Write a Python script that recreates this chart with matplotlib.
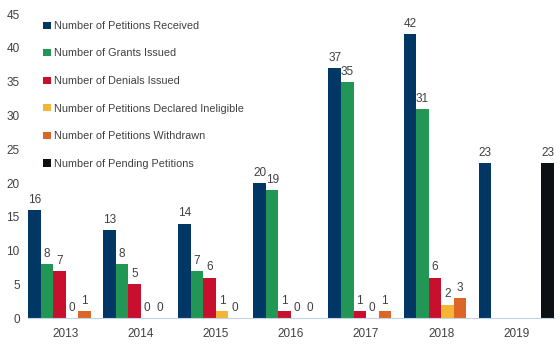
import numpy as np
import matplotlib.pyplot as plt

plt.rcParams['font.family'] = ['Liberation Sans', 'DejaVu Sans']

years = ["2013", "2014", "2015", "2016", "2017", "2018", "2019"]
received = [16, 13, 14, 20, 37, 42, 23]
grants = [8, 8, 7, 19, 35, 31, np.nan]
denials = [7, 5, 6, 1, 1, 6, np.nan]
ineligible = [0, 0, 1, 0, 0, 2, np.nan]
withdrawn = [1, 0, 0, 0, 1, 3, np.nan]
pending = [np.nan, np.nan, np.nan, np.nan, np.nan, np.nan, 23]

series = [
    ("Number of Petitions Received", received, "#003764"),
    ("Number of Grants Issued", grants, "#229654"),
    ("Number of Denials Issued", denials, "#c8102e"),
    ("Number of Petitions Declared Ineligible", ineligible, "#f4b535"),
    ("Number of Petitions Withdrawn", withdrawn, "#dc6627"),
    ("Number of Pending Petitions", pending, "#0c1014"),
]

fig = plt.figure(figsize=(5.6, 3.45), dpi=100)
ax = fig.add_axes([0.05, 0.078, 0.939, 0.881])

x = np.arange(len(years))
width = 1 / 6

for i, (name, vals, color) in enumerate(series):
    pos = x - 0.5 + width * (i + 0.5)
    bars = ax.bar(pos, vals, width, color=color, label=name)
    labels = ["" if np.isnan(v) else f"{v:g}" for v in vals]
    ax.bar_label(bars, labels=labels, padding=3, fontsize=8.5, color="#404040")

ax.set_xlim(-0.5, len(years) - 0.5)
ax.set_ylim(0, 45)
ax.set_yticks(range(0, 46, 5))
ax.set_xticks(x)
ax.set_xticklabels(years)
ax.tick_params(axis="both", length=0, labelsize=8.5, colors="#404040")
ax.tick_params(axis="y", pad=6)
ax.tick_params(axis="x", pad=7)
for s in ["top", "right", "left"]:
    ax.spines[s].set_visible(False)
ax.spines["bottom"].set_color("#c5d3e6")

ax.legend(loc="upper left", bbox_to_anchor=(0.068, 0.955), bbox_transform=fig.transFigure,
          frameon=False, fontsize=7.8, handlelength=0.65, handleheight=0.65,
          handletextpad=0.35, labelspacing=1.62, borderpad=0, labelcolor="#404040")

fig.savefig("out.png", dpi=100)
